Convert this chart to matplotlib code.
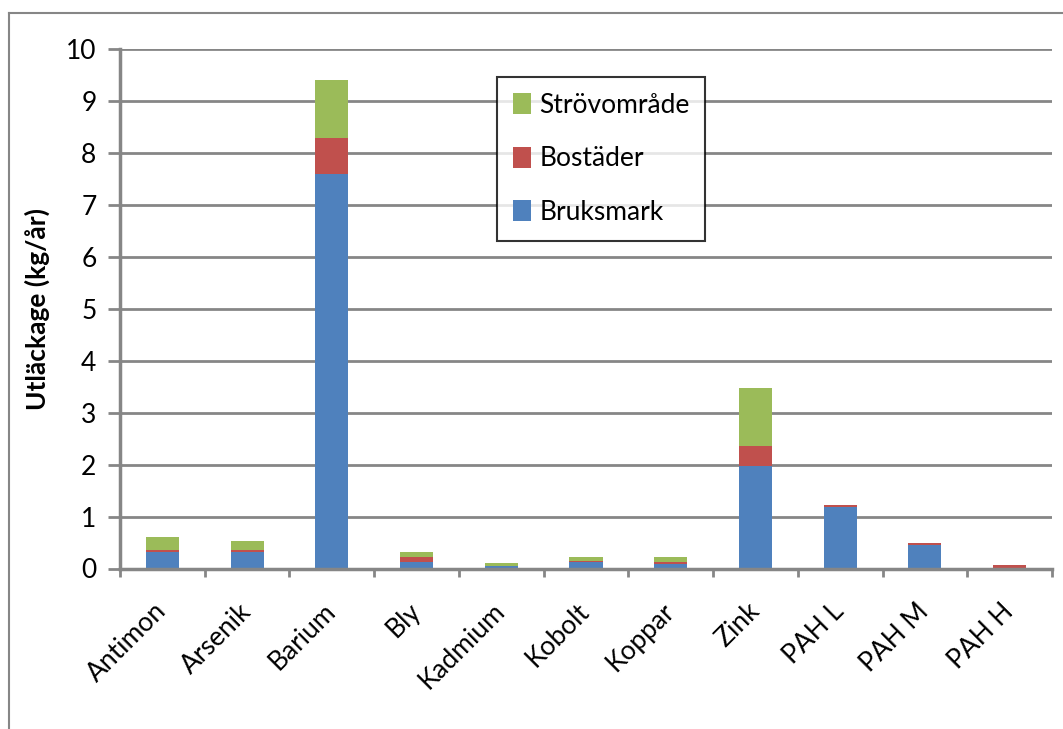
import numpy as np
import matplotlib.pyplot as plt
from matplotlib.lines import Line2D

plt.rcParams['font.family'] = ['Lato', 'DejaVu Sans']
plt.rcParams['font.size'] = 19

# data (kg/år)
categories = ['Antimon', 'Arsenik', 'Barium', 'Bly', 'Kadmium', 'Kobolt',
              'Koppar', 'Zink', 'PAH L', 'PAH M', 'PAH H']
bruksmark = [0.31, 0.31, 7.60, 0.13, 0.05, 0.13, 0.09, 1.98, 1.19, 0.45, 0.01]
bostader = [0.05, 0.05, 0.68, 0.09, 0.005, 0.01, 0.04, 0.38, 0.04, 0.04, 0.05]
strovomrade = [0.24, 0.17, 1.12, 0.09, 0.05, 0.08, 0.09, 1.12, 0.0, 0.0, 0.0]
yticks = [0, 1, 2, 3, 4, 5, 6, 7, 8, 9, 10]

blue = '#4F81BD'
red = '#C0504D'
green = '#9BBB59'
grey = '#868686'

fig = plt.figure(figsize=(10.63, 7.29), dpi=100)
ax = fig.add_axes([120/1063, 1 - 568.5/729, (1052-120)/1063, (568.5-49)/729])

x = np.arange(len(categories))
b1 = np.array(bruksmark)
b2 = np.array(bostader)
b3 = np.array(strovomrade)
w = 0.39
ax.bar(x, b1, w, color=blue, label='Bruksmark', zorder=3)
ax.bar(x, b2, w, bottom=b1, color=red, label='Bostäder', zorder=3)
ax.bar(x, b3, w, bottom=b1 + b2, color=green, label='Strövområde', zorder=3)

ax.set_xlim(-0.5, len(categories) - 0.5)
ax.set_ylim(0, 10)
ax.set_yticks(yticks)
ax.yaxis.grid(True, color=grey, lw=2, zorder=0)
ax.tick_params(axis='y', length=9, width=2, color=grey, pad=8)

# labels at category centres, tick marks at category boundaries
ax.set_xticks(x)
ax.set_xticklabels(categories, rotation=45, ha='right', va='center',
                   rotation_mode='anchor')
ax.tick_params(axis='x', which='major', length=0, pad=28)
ax.set_xticks(np.arange(len(categories) + 1) - 0.5, minor=True)
ax.tick_params(axis='x', which='minor', length=6, width=2, color=grey)

for s in ['top', 'right']:
    ax.spines[s].set_visible(False)
for s in ['left', 'bottom']:
    ax.spines[s].set_color(grey)
    ax.spines[s].set_linewidth(2.5)
ax.spines['left'].set_zorder(4)
ax.spines['bottom'].set_zorder(4)

ax.set_ylabel('Utläckage (kg/år)', fontweight='bold')
ax.yaxis.set_label_coords(-70/932, 0.5)

h, l = ax.get_legend_handles_labels()
leg = fig.legend(h[::-1], l[::-1], loc='upper left',
                 bbox_to_anchor=(497/1063, 1 - 77/729), borderaxespad=0,
                 fancybox=False, frameon=True, edgecolor='black',
                 handlelength=0.7, handleheight=0.85, handletextpad=0.3,
                 labelspacing=1.08, borderpad=0.6)
leg.get_frame().set_linewidth(1.5)

# outer chart frame
fig.add_artist(Line2D([9/1063, 9/1063], [0, 1 - 13/729], color=grey, lw=1.5,
                      transform=fig.transFigure))
fig.add_artist(Line2D([9/1063, 1], [1 - 13/729, 1 - 13/729], color=grey, lw=1.5,
                      transform=fig.transFigure))

fig.savefig('out.png', dpi=100)
